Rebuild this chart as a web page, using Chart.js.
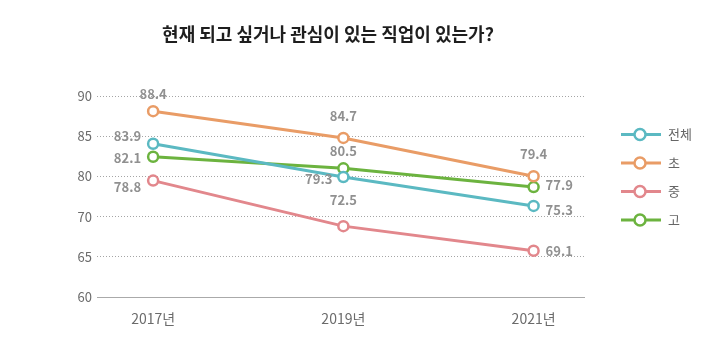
<!DOCTYPE html>
<html lang="ko">
<head>
<meta charset="utf-8">
<script src="https://cdn.jsdelivr.net/npm/chart.js@4.4.1/dist/chart.umd.min.js"></script>
<style>
  html, body { margin: 0; padding: 0; background: #fff; }
</style>
</head>
<body>
<canvas id="lineChart" width="720" height="358"></canvas>
<script>
const chartTitle = "현재 되고 싶거나 관심이 있는 직업이 있는가?";
const years = ["2017년", "2019년", "2021년"];
const yTickLabels = ["60", "65", "70", "80", "85", "90"];
const seriesNames = ["전체", "초", "중", "고"];
const totalValues = [83.9, 79.3, 75.3];
const elementaryValues = [88.4, 84.7, 79.4];
const middleValues = [78.8, 72.5, 69.1];
const highValues = [82.1, 80.5, 77.9];
const seriesColors = ["#5bb9c2", "#e99c66", "#e2878c", "#6cb33f"];

// where each value label sits relative to its point: [dx, dy, align]
const labelPlacement = [
  [[-12, -8, "right"], [-11, 2, "right"], [12, 4, "left"]],
  [[0, -17, "center"], [0, -22, "center"], [0, -22, "center"]],
  [[-12, 6, "right"], [0, -26, "center"], [12, 0, "left"]],
  [[-12, 1, "right"], [0, -17, "center"], [12, -2, "left"]]
];

const fontFamily = '"Noto Sans CJK KR", "Noto Sans", sans-serif';
Chart.defaults.font.family = fontFamily;

const allValues = [totalValues, elementaryValues, middleValues, highValues];

const titlePlugin = {
  id: "titleText",
  afterDraw(chart) {
    const ctx = chart.ctx;
    ctx.save();
    ctx.font = "bold 18px " + fontFamily;
    ctx.fillStyle = "#1e1e1e";
    ctx.textAlign = "center";
    ctx.textBaseline = "middle";
    ctx.fillText(chartTitle, 328, 34);
    ctx.restore();
  }
};

const valueLabels = {
  id: "valueLabels",
  afterDatasetsDraw(chart) {
    const ctx = chart.ctx;
    ctx.save();
    ctx.font = "bold 13px " + fontFamily;
    ctx.fillStyle = "#909090";
    ctx.textBaseline = "middle";
    chart.data.datasets.forEach((ds, i) => {
      chart.getDatasetMeta(i).data.forEach((pt, j) => {
        const [dx, dy, align] = labelPlacement[i][j];
        ctx.textAlign = align;
        ctx.fillText(allValues[i][j].toFixed(1), pt.x + dx, pt.y + dy);
      });
    });
    ctx.restore();
  }
};

const sideLegend = {
  id: "sideLegend",
  afterDraw(chart) {
    const ctx = chart.ctx;
    ctx.save();
    chart.data.datasets.forEach((ds, i) => {
      const y = 134.5 + i * 28.5;
      ctx.strokeStyle = ds.borderColor;
      ctx.lineWidth = 3;
      ctx.beginPath();
      ctx.moveTo(621, y);
      ctx.lineTo(661, y);
      ctx.stroke();
      ctx.beginPath();
      ctx.arc(640, y, 5.5, 0, Math.PI * 2);
      ctx.fillStyle = "#fff";
      ctx.fill();
      ctx.lineWidth = 2.5;
      ctx.stroke();
      ctx.fillStyle = "#666";
      ctx.font = "13px " + fontFamily;
      ctx.textAlign = "left";
      ctx.textBaseline = "middle";
      ctx.fillText(ds.label, 668, y);
    });
    ctx.restore();
  }
};

const ctx = document.getElementById("lineChart");
new Chart(ctx, {
  type: "line",
  data: {
    datasets: seriesNames.map((name, i) => ({
      label: name,
      data: allValues[i].map((v, j) => ({ x: j, y: v })),
      borderColor: seriesColors[i],
      backgroundColor: seriesColors[i],
      borderWidth: 3,
      pointRadius: 5,
      pointBorderWidth: 2.5,
      pointBackgroundColor: "#fff",
      pointBorderColor: seriesColors[i],
      tension: 0
    }))
  },
  options: {
    responsive: false,
    animation: false,
    devicePixelRatio: 1,
    layout: { padding: { left: 0, right: 136, top: 96, bottom: 31 } },
    plugins: {
      legend: { display: false },
      title: { display: false },
      tooltip: { enabled: false }
    },
    scales: {
      x: {
        type: "linear",
        min: -0.295,
        max: 2.265,
        afterBuildTicks: axis => { axis.ticks = years.map((_, i) => ({ value: i })); },
        afterFit: axis => { axis.height = 30; },
        ticks: {
          callback: v => years[v],
          padding: 13,
          color: "#6b6b6b",
          font: { size: 14 }
        },
        grid: { display: false, drawTicks: false },
        border: { display: true, color: "#aaa", width: 1 }
      },
      y: {
        min: 62.7,
        max: 90.5,
        afterBuildTicks: axis => {
          const n = yTickLabels.length - 1;
          axis.ticks = yTickLabels.map((_, i) => ({ value: axis.min + i * (axis.max - axis.min) / n }));
        },
        afterFit: axis => { axis.width = 97; },
        ticks: {
          callback: (v, i) => yTickLabels[i],
          padding: 5,
          color: "#6b6b6b",
          font: { size: 13 }
        },
        grid: {
          color: c => c.index === 0 ? "rgba(0,0,0,0)" : "#a5a5a5",
          drawTicks: false
        },
        border: { display: false, dash: [1, 2] }
      }
    }
  },
  plugins: [titlePlugin, valueLabels, sideLegend]
});
</script>
</body>
</html>
